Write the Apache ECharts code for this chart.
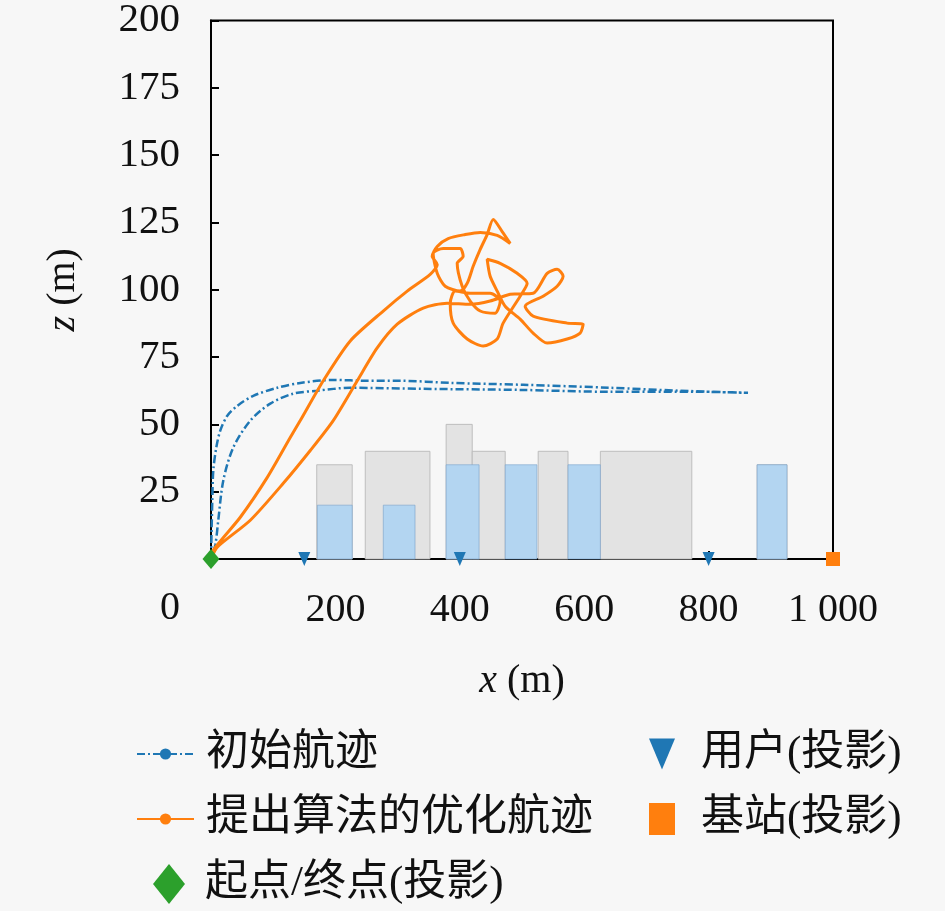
<!DOCTYPE html>
<html>
<head>
<meta charset="utf-8">
<script src="https://cdn.jsdelivr.net/npm/echarts@6/dist/echarts.min.js"></script>
<style>
  html, body { margin: 0; background: #f7f7f7; }
  #chart { width: 945px; height: 911px; }
</style>
</head>
<body>
<div id="chart"></div>
<script>
// initial trajectory (x, z) in metres: out along the upper curve, back along the lower one
const initialPath = [
  [0, 0], [1, 11], [2.1, 21.8], [3.7, 32.9], [8.5, 41.4], [14.9, 47.7], [26.2, 53.2],
  [42.3, 56.9], [68, 60.6], [106.5, 63.6], [143.5, 65.4], [196.5, 66.5], [251.2, 66.2],
  [304.2, 66.2], [384.6, 65.4], [501.9, 64.7], [641.7, 63.6], [754.2, 62.5], [863.4, 61.7],
  [786.3, 62.1], [641.7, 62.1], [497, 62.8], [341.2, 63.2], [223.9, 63.6], [170.8, 62.5],
  [132.3, 61.4], [95.3, 57.7], [63.2, 51.4], [35.8, 41.4], [19.8, 29.2], [11.7, 14.4],
  [6.9, 5.2], [0, 0]
]

// optimized trajectory of the proposed algorithm
const optimizedPath = [
  [0, 0], [10.1, 4.4], [63.2, 14.4], [116.2, 28.1], [159.6, 40.3], [196.5, 51.4],
  [235.1, 66.2], [267.2, 78.4], [299.4, 87.2], [341.2, 93.2], [379.7, 95], [416.7, 94.6],
  [448.8, 95.8], [481, 98.3], [517.9, 98.7], [540.4, 106.1], [556.5, 107.6], [566.1, 105],
  [556.5, 101.3], [534, 97.6], [505.1, 93.9], [517.9, 90.2], [572.6, 87.6], [598.3, 87.2],
  [593.5, 83.9], [572.6, 81.7], [540.4, 80.2], [517.9, 83.9], [497, 89.1], [472.9, 93.9],
  [460.1, 99.5], [448.8, 105], [444, 111.3], [464.9, 109.8], [492.2, 106.1], [508.3, 102.4],
  [497, 97.6], [469.7, 87.6], [460.1, 81.7], [437.6, 79.1], [411.9, 81.7], [389.4, 87.6],
  [384.6, 95], [392.6, 99.5], [416.7, 98.7], [448.8, 98.7], [465, 95.8], [456.9, 91.3],
  [432.8, 92.1], [416.7, 95.8], [403.8, 101.3], [395.8, 109.8], [405.4, 112.4], [400.6, 115.3],
  [373.3, 115.3], [357.2, 113.5], [363.7, 106.1], [376.5, 101.3], [400.6, 99.5], [411.9, 102.4],
  [421.5, 108.7], [432.8, 115], [444, 120.5], [453.7, 126.1], [468.1, 121.6], [481, 117.2],
  [460.1, 120.2], [432.8, 121.3], [408.7, 120.5], [381.3, 119], [363.7, 116.1], [355.6, 112.4],
  [363.7, 109.4], [352.4, 105.7], [315.5, 99.5], [276.9, 92.1], [223.9, 81], [180.5, 66.2],
  [143.5, 51.4], [127.4, 45.1], [90.5, 30.3], [47.1, 15.5], [3.7, 3.3], [0, 0]
]

const startEnd = [[0, 0]]
const users = [[150, 0], [400, 0], [800, 0]]
const baseStation = [[1000, 0]]

// buildings: [x start, x end, height]
const grayBuildings = [
  [170, 227, 35], [248, 352, 40], [378, 420, 50], [420, 473, 40],
  [526, 574, 40], [626, 773, 40], [878, 926, 35]
]
const blueBuildings = [
  [171, 227, 20], [277, 328, 20], [378, 431, 35], [473, 524, 35],
  [574, 626, 35], [878, 926, 35]
]

const seriesNames = ['初始航迹', '提出算法的优化航迹', '起点/终点(投影)', '用户(投影)', '基站(投影)']

const serif = 'Liberation Serif'
const legendFont = 'Liberation Serif, Noto Sans CJK SC'
const downTriangle = 'path://M0,0 L10,0 L5,12 Z'

const chart = echarts.init(document.getElementById('chart'))

const drawBuilding = (fill, stroke) => (params, api) => {
  const p0 = api.coord([api.value(0), api.value(2)])
  const p1 = api.coord([api.value(1), 0])
  return {
    type: 'rect',
    shape: { x: p0[0], y: p0[1], width: p1[0] - p0[0], height: p1[1] - p0[1] },
    style: { fill: fill, stroke: stroke, lineWidth: 1 }
  }
}

const legendText = {
  fontSize: 43,
  fontFamily: legendFont,
  color: '#111',
  lineHeight: 46
}

const option = {
  backgroundColor: '#f7f7f7',
  animation: false,
  grid: {
    left: 211, right: 112, top: 18, bottom: 352,
    show: true, borderColor: '#000', borderWidth: 2
  },
  xAxis: {
    type: 'value',
    min: 0, max: 1000, interval: 200,
    name: '{i|x} (m)',
    nameLocation: 'middle',
    nameGap: 102,
    nameTextStyle: {
      fontSize: 40, fontFamily: serif, color: '#111',
      rich: { i: { fontSize: 40, fontFamily: serif, fontStyle: 'italic', color: '#111' } }
    },
    axisLine: { lineStyle: { color: '#000', width: 2 } },
    axisTick: { inside: true, length: 8, lineStyle: { color: '#000', width: 2 } },
    splitLine: { show: false },
    axisLabel: {
      fontSize: 40, fontFamily: serif, color: '#111', margin: 31,
      formatter: v => v === 0 ? '' : (v === 1000 ? '1 000' : String(v))
    }
  },
  yAxis: {
    type: 'value',
    min: 0, max: 200, interval: 25,
    name: '{i|z} (m)',
    nameLocation: 'middle',
    nameGap: 128,
    nameTextStyle: {
      fontSize: 40, fontFamily: serif, color: '#111',
      rich: { i: { fontSize: 40, fontFamily: serif, fontStyle: 'italic', color: '#111' } }
    },
    axisLine: { lineStyle: { color: '#000', width: 2 } },
    axisTick: { inside: true, length: 8, lineStyle: { color: '#000', width: 2 } },
    splitLine: { show: false },
    axisLabel: {
      fontSize: 41, fontFamily: serif, color: '#111', margin: 31,
      formatter: v => v === 0 ? '' : String(v)
    }
  },
  graphic: [{
    type: 'text', left: 160, top: 588,
    style: { text: '0', fontSize: 40, fontFamily: serif, fill: '#111' }
  }],
  legend: [
    {
      data: [seriesNames[0], seriesNames[1]],
      orient: 'vertical', left: 131, top: 726,
      itemWidth: 57, itemHeight: 14, itemGap: 19,
      selectedMode: false,
      textStyle: Object.assign({ padding: [0, 0, 0, 7] }, legendText)
    },
    {
      data: [seriesNames[2]],
      orient: 'vertical', left: 148, top: 856,
      itemWidth: 32, itemHeight: 40,
      selectedMode: false,
      textStyle: Object.assign({ padding: [0, 0, 0, 15] }, legendText)
    },
    {
      data: [
        { name: seriesNames[3], icon: downTriangle },
        { name: seriesNames[4] }
      ],
      orient: 'vertical', left: 644, top: 726,
      itemWidth: 26, itemHeight: 32, itemGap: 19,
      selectedMode: false,
      textStyle: Object.assign({ padding: [0, 0, 0, 21] }, legendText)
    }
  ],
  series: [
    {
      type: 'custom',
      name: 'gray',
      renderItem: drawBuilding('#e3e3e3', 'rgba(185,185,185,0.9)'),
      encode: { x: [0, 1], y: 2 },
      data: grayBuildings,
      silent: true,
      z: 1
    },
    {
      type: 'custom',
      name: 'blue',
      renderItem: drawBuilding('#b3d5f1', 'rgba(120,160,200,0.6)'),
      encode: { x: [0, 1], y: 2 },
      data: blueBuildings,
      silent: true,
      z: 2
    },
    {
      type: 'line',
      name: seriesNames[0],
      data: initialPath,
      smooth: 0.3,
      symbol: 'circle',
      symbolSize: 5,
      showSymbol: false,
      color: '#1f77b4',
      lineStyle: { width: 2.5, type: [8, 3, 2, 3] },
      z: 3
    },
    {
      type: 'line',
      name: seriesNames[1],
      data: optimizedPath,
      smooth: 0.25,
      symbol: 'circle',
      symbolSize: 7,
      showSymbol: false,
      color: '#ff7f0e',
      lineStyle: { width: 3 },
      z: 4
    },
    {
      type: 'scatter',
      name: seriesNames[2],
      data: startEnd,
      symbol: 'diamond',
      symbolSize: [17, 20],
      itemStyle: { color: '#2ca02c', opacity: 1 },
      z: 6
    },
    {
      type: 'scatter',
      name: seriesNames[3],
      data: users,
      symbol: downTriangle,
      symbolSize: [12, 14],
      itemStyle: { color: '#1f77b4', opacity: 1 },
      z: 6
    },
    {
      type: 'scatter',
      name: seriesNames[4],
      data: baseStation,
      symbol: 'rect',
      symbolSize: 14,
      itemStyle: { color: '#ff7f0e', opacity: 1 },
      z: 6
    }
  ]
}

chart.setOption(option)
</script>
</body>
</html>
